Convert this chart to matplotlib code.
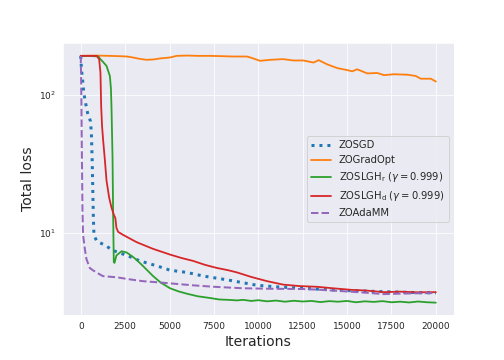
import numpy as np
import matplotlib
matplotlib.use("Agg")
import matplotlib.pyplot as plt
import seaborn as sns

# data (iteration, total loss)
sgd_it = [0, 40, 75, 130, 170, 270, 380, 550, 600, 640, 680, 710, 740, 800, 920, 1360,
          1800, 2600, 3330, 4290, 5030, 5990, 6900, 8250, 9940, 11000, 12500, 14000,
          15000, 16500, 18000, 19000, 20000]
sgd_loss = [190, 153, 138, 118, 103, 87, 74, 64, 52, 35, 20, 13, 10, 9.3, 8.7, 8.2,
            7.5, 6.9, 6.3, 5.8, 5.4, 5.2, 4.9, 4.6, 4.2, 4.1, 4.0, 3.9,
            3.85, 3.8, 3.75, 3.72, 3.7]

gradopt_it = [0, 800, 1640, 2200, 2600, 2940, 3300, 3700, 4100, 4460, 5030, 5400, 6000,
              6600, 7300, 8000, 8590, 9360, 9550, 10100, 10680, 11400, 11980, 12540,
              13110, 13400, 13880, 14450, 15010, 15290, 15570, 16140, 16700, 17080,
              17650, 18400, 18870, 19150, 19720, 20000]
gradopt_loss = [190, 191, 190, 189, 188, 185, 181, 178, 179, 182, 185, 190, 191,
                190, 190, 189, 188, 188, 185, 175, 178, 180, 176, 176,
                170, 177, 165, 155, 150, 147, 152, 142, 143, 138,
                140, 139, 136, 130, 130, 124]

slgh_r_it = [0, 500, 1000, 1070, 1250, 1450, 1640, 1700, 1730, 1790, 1820, 1860, 1900,
             2010, 2300, 2580, 2900, 3150, 3500, 4070, 4500, 5030, 5500, 5990, 6600,
             7300, 7800, 8300, 8800, 9150, 9600, 10000, 10500, 11000, 11500, 12000,
             12500, 13000, 13500, 14000, 14500, 15000, 15500, 16000, 16500, 17000,
             17500, 18000, 18500, 19000, 19500, 20000]
slgh_r_loss = [190, 190, 188, 182, 172, 161, 136, 110, 82, 35, 15, 6.2, 6.1,
               6.9, 7.4, 7.25, 6.8, 6.4, 5.8, 4.9, 4.4, 4.0, 3.8, 3.65, 3.5,
               3.4, 3.32, 3.3, 3.27, 3.3, 3.24, 3.28, 3.22, 3.26, 3.2, 3.25,
               3.21, 3.24, 3.18, 3.23, 3.2, 3.24, 3.17, 3.22, 3.19, 3.23,
               3.17, 3.2, 3.16, 3.21, 3.17, 3.15]

slgh_d_it = [0, 500, 900, 1035, 1110, 1150, 1200, 1260, 1360, 1450, 1600, 1730, 1860,
             1950, 2010, 2110, 2390, 3150, 4070, 5030, 5700, 6330, 7000, 7680, 8300,
             8810, 9550, 9940, 10500, 11400, 12300, 13300, 14200, 15200, 16100,
             17060, 18000, 19000, 20000]
slgh_d_loss = [190, 190, 190, 180, 144, 82, 59, 47, 33.5, 24, 18, 15.3, 13.6,
               12.8, 10.9, 10.2, 9.7, 8.6, 7.7, 7.0, 6.6, 6.3, 5.9, 5.6, 5.4,
               5.2, 4.85, 4.7, 4.5, 4.25, 4.15, 4.1, 4.0, 3.9, 3.85,
               3.75, 3.78, 3.74, 3.75]

adamm_it = [0, 15, 40, 55, 75, 95, 130, 230, 320, 510, 680, 1000, 1240, 1600, 2030,
            2700, 3500, 4500, 5400, 6330, 7500, 8300, 9150, 10500, 11500, 12540,
            13500, 14900, 16000, 17060, 18000, 19000, 20000]
adamm_loss = [190, 145, 82, 47, 27, 15, 9.7, 7.7, 6.5, 5.6, 5.4, 5.1, 4.9, 4.85, 4.8,
              4.65, 4.5, 4.4, 4.3, 4.2, 4.1, 4.05, 4.0, 3.97, 3.96, 3.95,
              3.9, 3.8, 3.72, 3.63, 3.66, 3.68, 3.7]

labels = ["ZOSGD", "ZOGradOpt",
          r"ZOSLGH$_{\rm r}$ ($\gamma=0.999$)",
          r"ZOSLGH$_{\rm d}$ ($\gamma=0.999$)",
          "ZOAdaMM"]

sns.set_style("darkgrid")
plt.rcParams["xtick.labelsize"] = 9
plt.rcParams["ytick.labelsize"] = 9
plt.rcParams["legend.fontsize"] = 10

fig, ax = plt.subplots(figsize=(7, 5), dpi=72)
fig.subplots_adjust(left=0.125, right=0.9, top=0.88, bottom=0.125)

ax.plot(sgd_it, sgd_loss, ":", color="tab:blue", lw=3, label=labels[0])
ax.plot(gradopt_it, gradopt_loss, "-", color="tab:orange", lw=1.8, label=labels[1])
ax.plot(slgh_r_it, slgh_r_loss, "-", color="tab:green", lw=1.8, label=labels[2])
ax.plot(slgh_d_it, slgh_d_loss, "-", color="tab:red", lw=1.8, label=labels[3])
ax.plot(adamm_it, adamm_loss, "--", color="tab:purple", lw=2, label=labels[4])

ax.set_yscale("log")
ax.set_xticks(np.arange(0, 20001, 2500))
ax.set_xlabel("Iterations", fontsize=14)
ax.set_ylabel("Total loss", fontsize=14)
ax.legend(loc="center right")

fig.savefig("out.png", dpi=72)
